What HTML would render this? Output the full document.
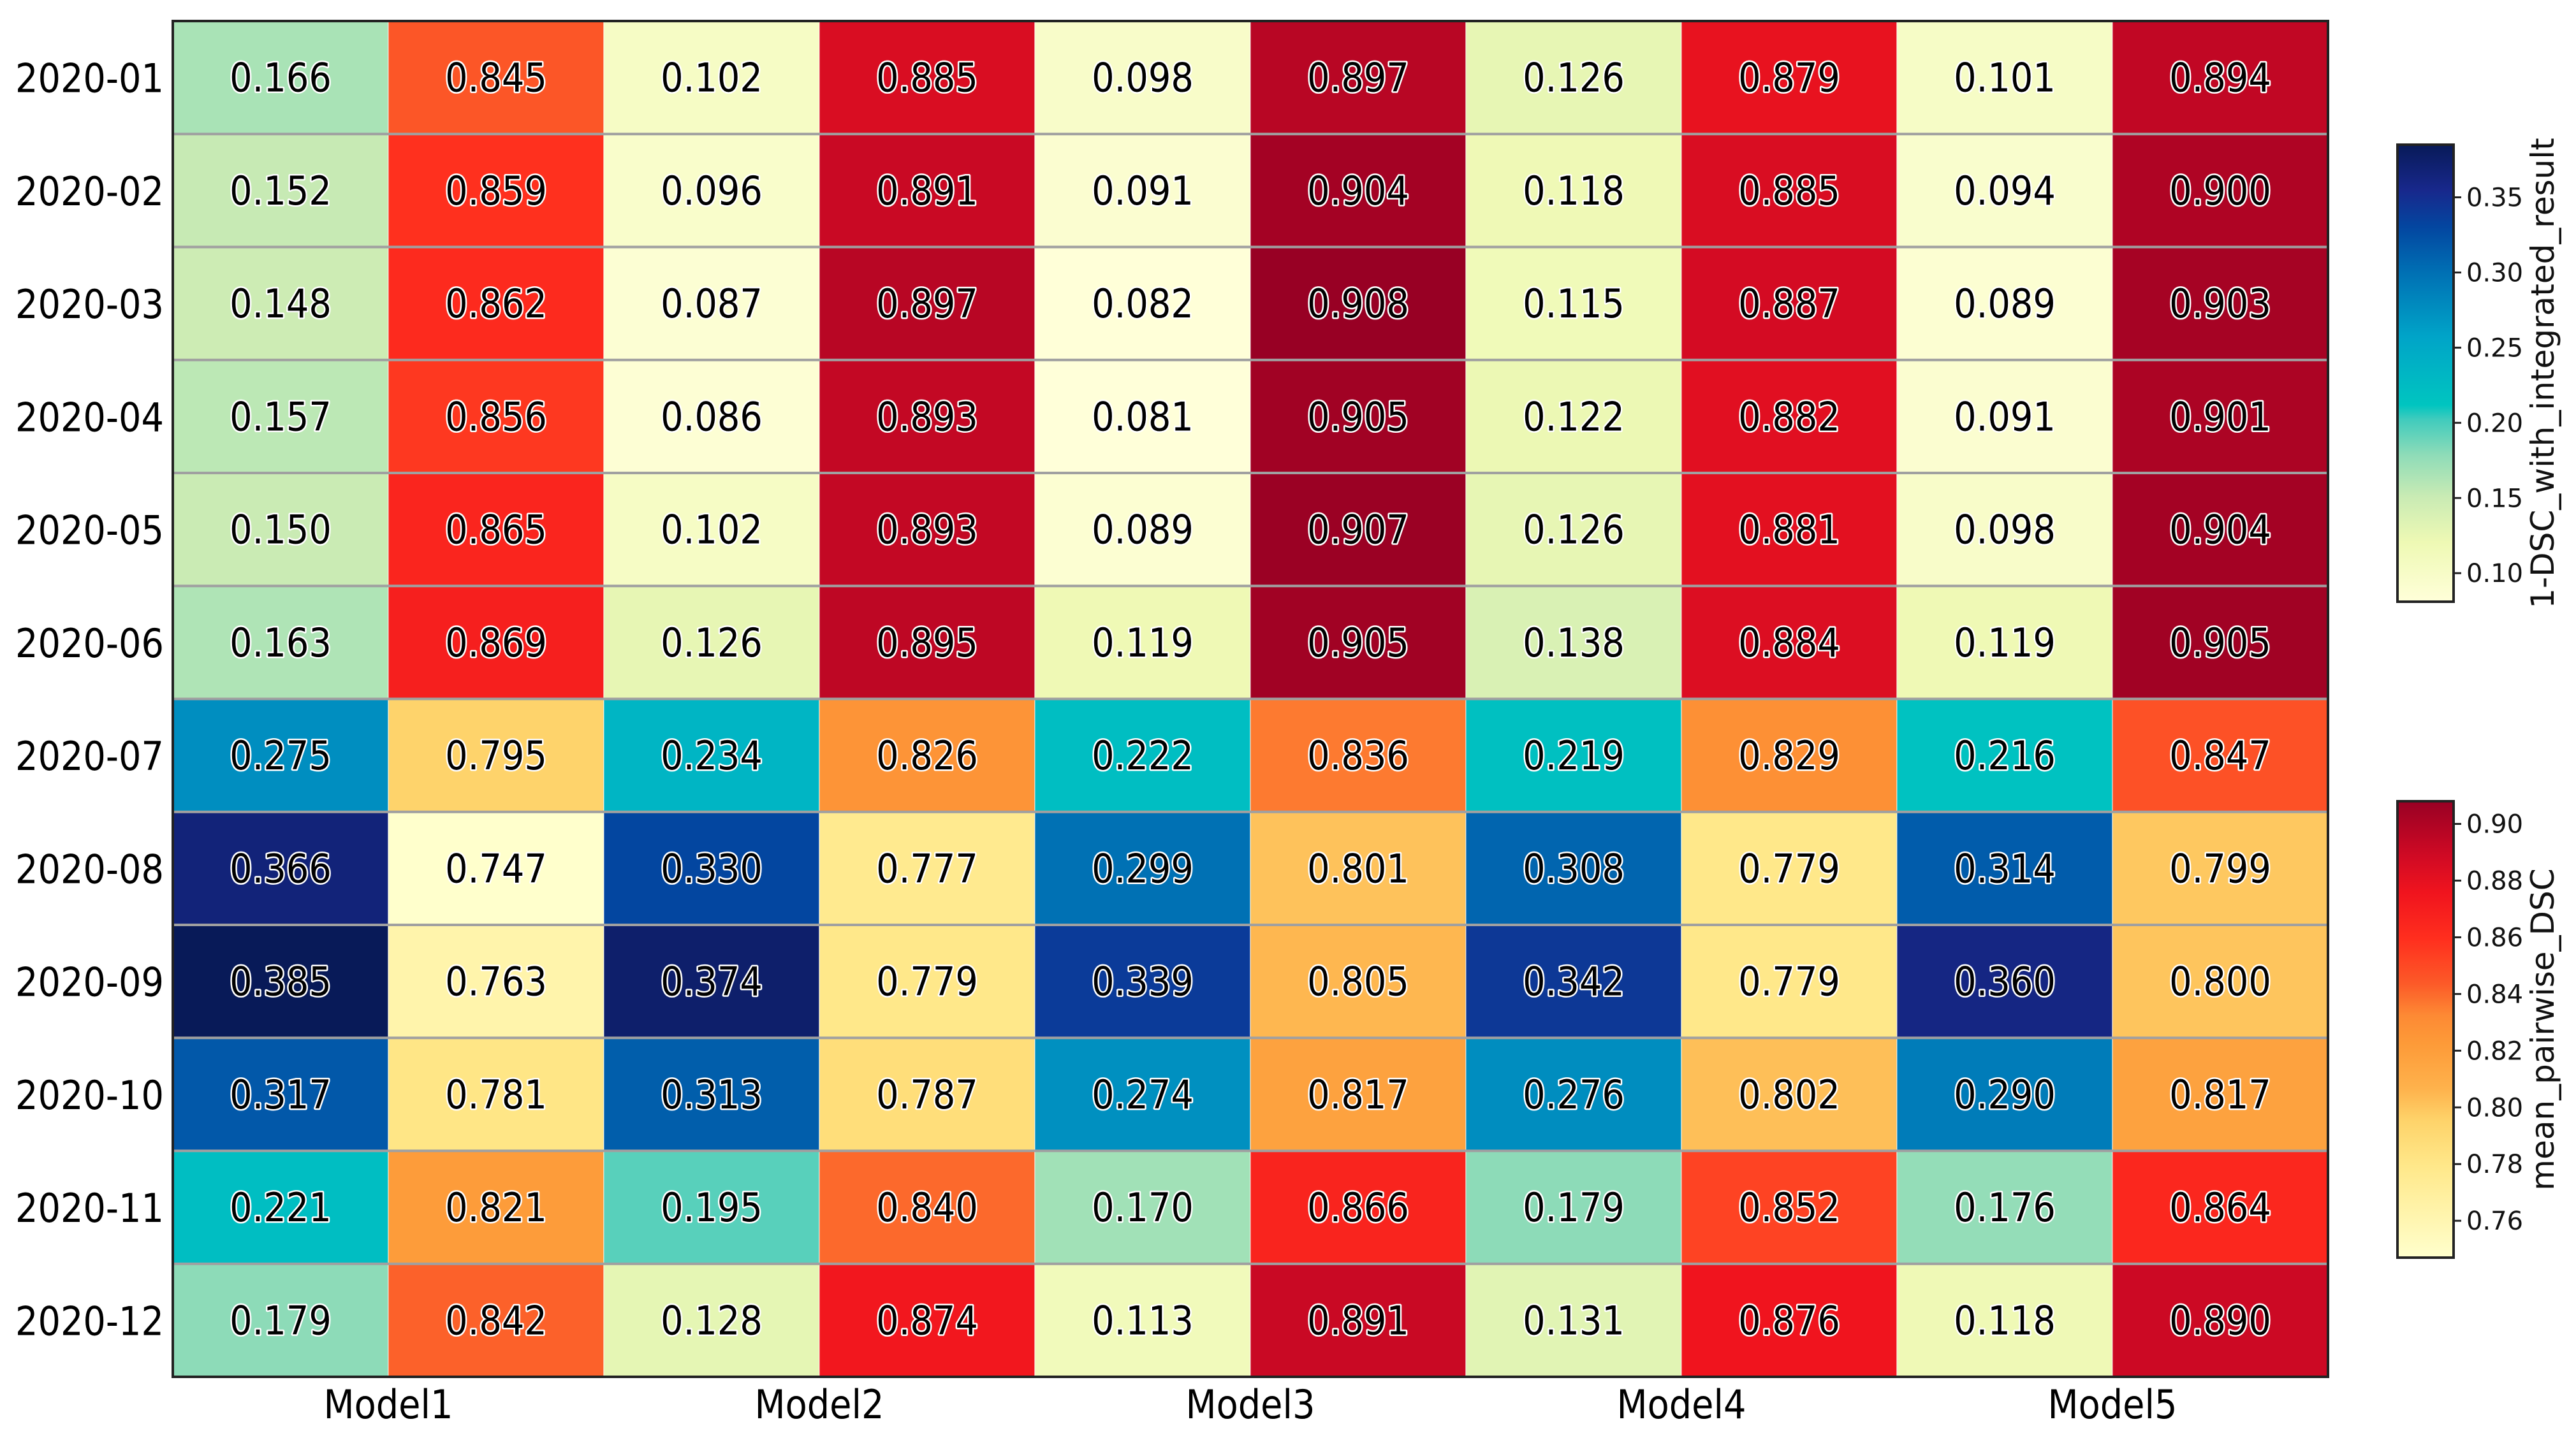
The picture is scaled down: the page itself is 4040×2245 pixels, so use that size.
<!DOCTYPE html>
<html><head><meta charset="utf-8"><style>
html,body{margin:0;padding:0;background:#fff;width:4040px;height:2245px;overflow:hidden}
svg text{font-family:"DejaVu Sans Condensed","DejaVu Sans","Liberation Sans",sans-serif}
svg text.cbt{font-family:"DejaVu Sans","Liberation Sans",sans-serif}
</style></head><body>
<svg id="chart" width="4040" height="2245" viewBox="0 0 4040 2245" xmlns="http://www.w3.org/2000/svg">
<defs>
<linearGradient id="gBlue" x1="0" y1="1" x2="0" y2="0"></linearGradient>
<linearGradient id="gRed" x1="0" y1="1" x2="0" y2="0"></linearGradient>
</defs>
<g id="cells"></g>
<g id="labels"></g>
<g id="axes"></g>
<g id="cbars"></g>
</svg>
<script>
const months = ["2020-01","2020-02","2020-03","2020-04","2020-05","2020-06","2020-07","2020-08","2020-09","2020-10","2020-11","2020-12"];
const models = ["Model1","Model2","Model3","Model4","Model5"];
// 1-DSC_with_integrated_result per model (rows = months)
const dscM1 = [0.166,0.152,0.148,0.157,0.150,0.163,0.275,0.366,0.385,0.317,0.221,0.179];
const dscM2 = [0.102,0.096,0.087,0.086,0.102,0.126,0.234,0.330,0.374,0.313,0.195,0.128];
const dscM3 = [0.098,0.091,0.082,0.081,0.089,0.119,0.222,0.299,0.339,0.274,0.170,0.113];
const dscM4 = [0.126,0.118,0.115,0.122,0.126,0.138,0.219,0.308,0.342,0.276,0.179,0.131];
const dscM5 = [0.101,0.094,0.089,0.091,0.098,0.119,0.216,0.314,0.360,0.290,0.176,0.118];
// mean_pairwise_DSC per model
const mpM1 = [0.845,0.859,0.862,0.856,0.865,0.869,0.795,0.747,0.763,0.781,0.821,0.842];
const mpM2 = [0.885,0.891,0.897,0.893,0.893,0.895,0.826,0.777,0.779,0.787,0.840,0.874];
const mpM3 = [0.897,0.904,0.908,0.905,0.907,0.905,0.836,0.801,0.805,0.817,0.866,0.891];
const mpM4 = [0.879,0.885,0.887,0.882,0.881,0.884,0.829,0.779,0.779,0.802,0.852,0.876];
const mpM5 = [0.894,0.900,0.903,0.901,0.904,0.905,0.847,0.799,0.800,0.817,0.864,0.890];
const blueTicks = [0.10,0.15,0.20,0.25,0.30,0.35];
const redTicks = [0.76,0.78,0.80,0.82,0.84,0.86,0.88,0.90];

const dscSeries=[dscM1,dscM2,dscM3,dscM4,dscM5];
const mpSeries=[mpM1,mpM2,mpM3,mpM4,mpM5];
const NS="http://www.w3.org/2000/svg";
function mk(tag,attrs,parent){const e=document.createElementNS(NS,tag);for(const k in attrs)e.setAttribute(k,attrs[k]);parent.appendChild(e);return e;}

const X0=271,X1=3651,Y0=33,Y1=2160;
const nCols=models.length*2, cw=(X1-X0)/nCols, ch=(Y1-Y0)/months.length;
const all=a=>a.flat();
const bMin=Math.min(...all(dscSeries)),bMax=Math.max(...all(dscSeries));
const rMin=Math.min(...all(mpSeries)),rMax=Math.max(...all(mpSeries));

const blueStops=[[0,"#ffffd9"],[0.13,"#eef9b4"],[0.23,"#c9ebb4"],[0.32,"#8fdcb8"],[0.4,"#3fcbbd"],[0.43,"#00c5c0"],[0.58,"#00a4c8"],[0.72,"#0070b4"],[0.82,"#0346a0"],[0.9,"#18288c"],[1,"#081a58"]];
const redStops=[[0,"#ffffcc"],[0.2,"#ffe88a"],[0.3,"#fed36a"],[0.37,"#feb24c"],[0.47,"#fd9a38"],[0.53,"#fd8a34"],[0.6,"#fc5a28"],[0.7,"#ff2e1e"],[0.8,"#f0141e"],[0.88,"#d00a24"],[1,"#980024"]];
function hex2(h){return [1,3,5].map(i=>parseInt(h.substr(i,2),16));}
function cmap(stops,t){t=Math.max(0,Math.min(1,t));for(let i=1;i<stops.length;i++){if(t<=stops[i][0]){const a=stops[i-1],b=stops[i];const f=(t-a[0])/(b[0]-a[0]);const ca=hex2(a[1]),cb=hex2(b[1]);return "rgb("+ca.map((v,k)=>Math.round(v+(cb[k]-v)*f)).join(",")+")";}}return stops[stops.length-1][1];}
const xCol=c=>X0+c*cw, yRow=r=>Y0+r*ch;

const cells=document.getElementById('cells'),labels=document.getElementById('labels'),axes=document.getElementById('axes'),cb=document.getElementById('cbars');
for(let m=0;m<models.length;m++){
  for(let k=0;k<2;k++){
    const c=m*2+k, ser=k===0?dscSeries[m]:mpSeries[m];
    for(let r=0;r<months.length;r++){
      const v=ser[r];
      const col=k===0?cmap(blueStops,(v-bMin)/(bMax-bMin)):cmap(redStops,(v-rMin)/(rMax-rMin));
      const rc=mk('rect',{x:xCol(c),y:yRow(r),width:cw,height:ch,fill:col,stroke:'#ffffff','stroke-opacity':0.5,'stroke-width':1.5},cells);
      
      
      const t=mk('text',{x:xCol(c)+cw/2,y:yRow(r)+ch/2+22,'text-anchor':'middle','font-size':62,fill:'#000',stroke:'#fff','stroke-width':5,'paint-order':'stroke','stroke-linejoin':'round'},labels);
      t.textContent=v.toFixed(3);
      
      
    }
  }
}
for(let r=1;r<months.length;r++){
  const l=mk('line',{x1:X0,x2:X1,y1:yRow(r),y2:yRow(r),stroke:'#a0a0a0','stroke-width':4},cells);
  
  
}
const frame=mk('rect',{x:X0,y:Y0,width:X1-X0,height:Y1-Y0,fill:'none',stroke:'#222','stroke-width':4},axes);


months.forEach((mo,r)=>{
  const t=mk('text',{x:X0-14,y:yRow(r)+ch/2+23,'text-anchor':'end','font-size':62,fill:'#000'},axes);
  t.textContent=mo;
  
  
});
models.forEach((md,m)=>{
  const t=mk('text',{x:xCol(m*2+1),y:Y1+65,'text-anchor':'middle','font-size':62,fill:'#000'},axes);
  t.textContent=md;
  
  
});

function colorbar(gid,stops,vmin,vmax,ticks,top,bot,title,name,dec){
  const g=document.getElementById(gid);
  stops.forEach(s=>mk('stop',{offset:s[0],'stop-color':s[1]},g));
  const L=3760,R=3848;
  const rc=mk('rect',{x:L,y:top,width:R-L,height:bot-top,fill:'url(#'+gid+')',stroke:'#222','stroke-width':4},cb);
  
  
  const yv=v=>bot-(v-vmin)/(vmax-vmin)*(bot-top);
  ticks.forEach(v=>{
    const y=yv(v);
    const l=mk('line',{x1:R,x2:R+12,y1:y,y2:y,stroke:'#222','stroke-width':3},cb);
    
    
    const t=mk('text',{x:R+20,y:y+14,'font-size':40,fill:'#111','class':'cbt'},cb);
    t.textContent=v.toFixed(dec);
    
    
  });
  const cy=(top+bot)/2;
  const t=mk('text',{x:0,y:0,'font-size':50,fill:'#111','text-anchor':'middle','class':'cbt',transform:'translate(4005,'+cy+') rotate(-90)'},cb);
  t.textContent=title;
  
  
}
colorbar('gBlue',blueStops,bMin,bMax,blueTicks,227,944,'1-DSC_with_integrated_result','dsc-colorbar',2);
colorbar('gRed',redStops,rMin,rMax,redTicks,1257,1973,'mean_pairwise_DSC','pairwise-colorbar',2);
</script>
</body></html>
